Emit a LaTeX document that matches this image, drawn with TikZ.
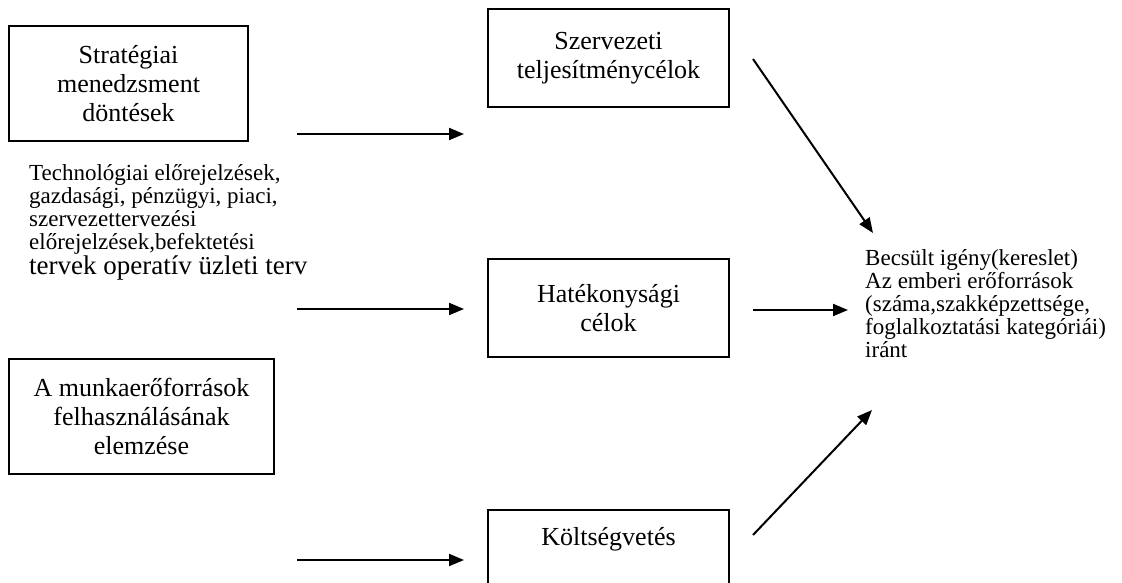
\documentclass[tikz,border=0pt]{standalone}
\usepackage{fontspec}
\setmainfont{Liberation Serif}
\usetikzlibrary{arrows.meta}
\tikzset{
  box/.style={draw, line width=1.6pt, minimum width=241pt, minimum height=98pt, inner sep=0pt, align=center, font=\fontsize{26}{29}\selectfont},
  arr/.style={line width=2pt, -{Triangle[length=15pt,width=12pt]}},
  plain/.style={inner sep=0pt, align=left, font=\fontsize{23}{23}\selectfont}
}
\begin{document}
\begin{tikzpicture}[x=1pt,y=-1pt]
\useasboundingbox (0,0) rectangle (1122,583);
\clip (0,0) rectangle (1122,583);
% boxes
\node[box, minimum width=239pt, minimum height=115pt] (strat) at (128.5,83.5) {Stratégiai\\menedzsment\\döntések};
\node[box] (szerv) at (608.5,58) {Szervezeti\\teljesítménycélok};
\node[box] (hatek) at (608.5,308) {Hatékonysági\\célok};
\node[box] (kolt) at (608.5,559) {};
\node[inner sep=0pt, font=\fontsize{26}{29}\selectfont] (koltlab) at (608.5,539) {Költségvetés};
\node[box, minimum width=265pt, minimum height=115pt] (munka) at (141.5,416.5) {A munkaerőforrások\\felhasználásának\\elemzése};
% texts
\node[plain, anchor=north west] (tech) at (29,164) {Technológiai előrejelzések,\\gazdasági, pénzügyi, piaci,\\szervezettervezési\\előrejelzések,befektetési\\[1pt]{\fontsize{27}{23}\selectfont tervek operatív üzleti terv}};
\node[plain, anchor=north west] (igeny) at (865,249) {Becsült igény(kereslet)\\Az emberi erőforrások\\(száma,szakképzettsége,\\foglalkoztatási kategóriái)\\iránt};
% connector ends
\coordinate (a1s) at (297,134); \coordinate (a1e) at (464,134);
\coordinate (a2s) at (297,309); \coordinate (a2e) at (464,309);
\coordinate (a3s) at (297,560); \coordinate (a3e) at (464,560);
\coordinate (d1s) at (753,59);  \coordinate (d1e) at (873,233);
\coordinate (h1s) at (753,310); \coordinate (h1e) at (848,310);
\coordinate (d2s) at (753,535); \coordinate (d2e) at (872,410);
\draw[arr] (a1s) -- (a1e);
\draw[arr] (a2s) -- (a2e);
\draw[arr] (a3s) -- (a3e);
\draw[arr] (d1s) -- (d1e);
\draw[arr] (h1s) -- (h1e);
\draw[arr] (d2s) -- (d2e);
\end{tikzpicture}
\end{document}
